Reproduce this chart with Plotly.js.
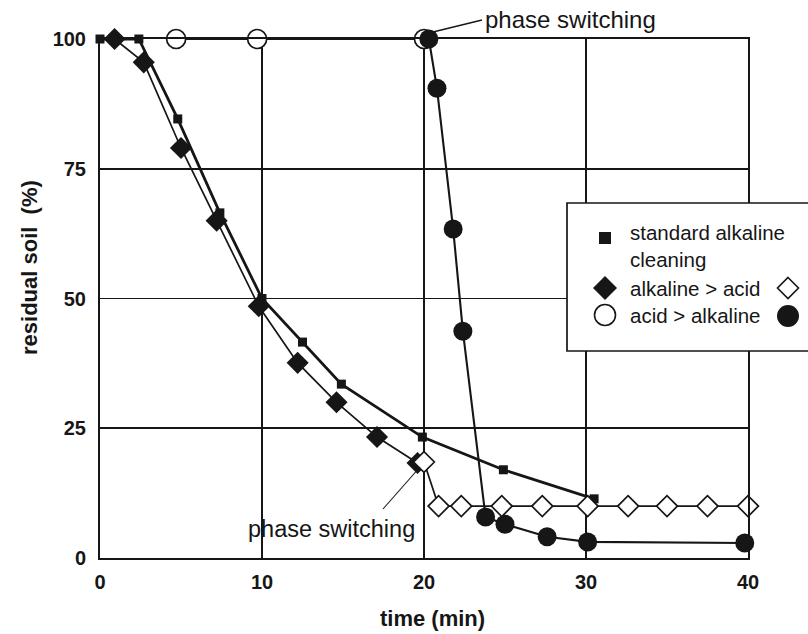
<!DOCTYPE html>
<html>
<head>
<meta charset="utf-8">
<script src="https://cdn.plot.ly/plotly-3.0.1.min.js"></script>
<style>
  html, body { margin: 0; padding: 0; background: #fff; }
  #chart { width: 808px; height: 634px; }
</style>
</head>
<body>
<div id="chart"></div>
<script>
// Residual soil (%) against cleaning time (min)

// standard alkaline cleaning
const stdTime = [0, 2.4, 4.8, 7.4, 10, 12.5, 14.9, 19.9, 24.9, 30.5];
const stdSoil = [100, 100, 84.6, 66.5, 50, 41.6, 33.5, 23.3, 17, 11.4];

// alkaline > acid: alkaline phase (filled diamonds)
const alkTime = [0.9, 2.7, 5.0, 7.2, 9.8, 12.2, 14.6, 17.1, 19.6];
const alkSoil = [100, 95.5, 79, 65, 48.5, 37.6, 30, 23.3, 18.3];
// alkaline > acid: acid phase (open diamonds)
const alkAcidTime = [20, 20.9, 22.3, 24.8, 27.3, 30.1, 32.6, 35, 37.5, 40];
const alkAcidSoil = [18.5, 10, 10, 10, 10, 10, 10, 10, 10, 10];

// acid > alkaline: acid phase (open circles)
const acidTime = [4.7, 9.7, 20];
const acidSoil = [100, 100, 100];
// acid > alkaline: alkaline phase (filled circles)
const acidAlkTime = [20.3, 20.8, 21.8, 22.4, 23.8, 25, 27.6, 30.1, 39.8];
const acidAlkSoil = [100, 90.5, 63.4, 43.7, 7.9, 6.5, 4.1, 3.1, 2.9];

const xTicks = [0, 10, 20, 30, 40];
const yTicks = [0, 25, 50, 75, 100];

const legendLabels = ['standard alkaline', 'cleaning', 'alkaline > acid', 'acid > alkaline'];
const noteText = 'phase switching';

const FONT = 'Liberation Sans, Arial, Helvetica, sans-serif';
const INK = '#161616';

// figure geometry (pixels) and helpers to place decorations in paper units
const W = 808, H = 634;
const M = { l: 100, r: 60, t: 39, b: 76 };
const PW = W - M.l - M.r, PH = H - M.t - M.b;
const px = x => (x - M.l) / PW;
const py = y => (H - M.b - y) / PH;

const traces = [
  {
    x: stdTime, y: stdSoil, mode: 'lines+markers', type: 'scatter', cliponaxis: false,
    line: { color: INK, width: 2.8 },
    marker: { symbol: 'square', size: 9, color: INK },
    hoverinfo: 'x+y'
  },
  {
    x: alkTime, y: alkSoil, mode: 'lines+markers', type: 'scatter', cliponaxis: false,
    line: { color: INK, width: 1.7 },
    marker: { symbol: 'diamond', size: 17, color: INK },
    hoverinfo: 'x+y'
  },
  {
    x: acidTime, y: acidSoil, mode: 'lines+markers', type: 'scatter', cliponaxis: false,
    line: { color: INK, width: 2 },
    marker: { symbol: 'circle', size: 19, color: '#fff', line: { color: INK, width: 1.7 } },
    hoverinfo: 'x+y'
  },
  {
    x: acidAlkTime, y: acidAlkSoil, mode: 'lines+markers', type: 'scatter', cliponaxis: false,
    line: { color: INK, width: 2.1 },
    marker: { symbol: 'circle', size: 19, color: INK },
    hoverinfo: 'x+y'
  },
  {
    x: [alkTime[alkTime.length - 1]].concat(alkAcidTime),
    y: [alkSoil[alkSoil.length - 1]].concat(alkAcidSoil),
    mode: 'lines', type: 'scatter', cliponaxis: false,
    line: { color: INK, width: 1.7 }, hoverinfo: 'skip'
  },
  {
    x: alkAcidTime, y: alkAcidSoil, mode: 'markers', type: 'scatter', cliponaxis: false,
    marker: { symbol: 'diamond', size: 16, color: '#fff', line: { color: INK, width: 1.7 } },
    hoverinfo: 'x+y'
  }
];

// legend box with its key symbols
function diamondPath(cx, cy, h) {
  return 'M' + px(cx) + ',' + py(cy - h) + ' L' + px(cx + h) + ',' + py(cy) +
         ' L' + px(cx) + ',' + py(cy + h) + ' L' + px(cx - h) + ',' + py(cy) + ' Z';
}
const shapes = [
  { type: 'rect', xref: 'paper', yref: 'paper', x0: px(567), x1: px(815), y0: py(351), y1: py(203),
    fillcolor: '#fff', line: { color: INK, width: 1.7 }, layer: 'above' },
  { type: 'rect', xref: 'paper', yref: 'paper', x0: px(599), x1: px(611), y0: py(244), y1: py(232),
    fillcolor: INK, line: { width: 0 } },
  { type: 'path', xref: 'paper', yref: 'paper', path: diamondPath(605, 288, 12),
    fillcolor: INK, line: { width: 0 } },
  { type: 'path', xref: 'paper', yref: 'paper', path: diamondPath(788, 288, 10.5),
    fillcolor: '#fff', line: { color: INK, width: 1.6 } },
  { type: 'circle', xref: 'paper', yref: 'paper', x0: px(594.5), x1: px(615.5), y0: py(325.5), y1: py(304.5),
    fillcolor: '#fff', line: { color: INK, width: 1.6 } },
  { type: 'circle', xref: 'paper', yref: 'paper', x0: px(777), x1: px(799), y0: py(327), y1: py(305),
    fillcolor: INK, line: { width: 0 } },
  // pointers of the two "phase switching" notes
  { type: 'line', xref: 'paper', yref: 'paper', x0: px(433), y0: py(32), x1: px(482), y1: py(20),
    line: { color: INK, width: 1.3 } },
  { type: 'line', xref: 'paper', yref: 'paper', x0: px(420), y0: py(467), x1: px(383), y1: py(509),
    line: { color: INK, width: 1.1 } }
];

const legendY = [232, 259, 288, 315];
const annotations = legendLabels.map((t, i) => ({
  text: t, xref: 'paper', yref: 'paper', x: px(628), y: py(legendY[i]),
  xanchor: 'left', yanchor: 'middle', showarrow: false,
  font: { family: FONT, size: 20.5, color: INK }
}));
annotations.push(
  { text: noteText, xref: 'paper', yref: 'paper', x: px(483), y: py(19),
    xanchor: 'left', yanchor: 'middle', showarrow: false,
    font: { family: FONT, size: 24, color: INK } },
  { text: noteText, xref: 'paper', yref: 'paper', x: px(331), y: py(529),
    xanchor: 'center', yanchor: 'middle', showarrow: false,
    font: { family: FONT, size: 23.5, color: INK } },
  { text: '<b>time (min)</b>', xref: 'paper', yref: 'paper', x: px(433), y: py(618),
    xanchor: 'center', yanchor: 'middle', showarrow: false,
    font: { family: FONT, size: 22, color: INK } },
  { text: '<b>residual soil  (%)</b>', xref: 'paper', yref: 'paper', x: px(29), y: py(268),
    xanchor: 'center', yanchor: 'middle', showarrow: false, textangle: -90,
    font: { family: FONT, size: 22, color: INK } }
);

const axisCommon = {
  showline: true, linecolor: INK, linewidth: 2, mirror: true,
  showgrid: true, gridcolor: INK, gridwidth: 1.8,
  zeroline: false, ticks: '', fixedrange: true,
  tickfont: { family: FONT, size: 20, color: INK, weight: 'bold' }
};

const layout = {
  width: W, height: H,
  margin: M,
  paper_bgcolor: '#fff', plot_bgcolor: '#fff',
  showlegend: false,
  xaxis: Object.assign({}, axisCommon, { range: [0, 40], tickvals: xTicks, ticktext: xTicks.map(String), ticklabelstandoff: 5 }),
  yaxis: Object.assign({}, axisCommon, { range: [0, 100], tickvals: yTicks, ticktext: yTicks.map(String), ticklabelstandoff: 8 }),
  shapes: shapes,
  annotations: annotations
};

Plotly.newPlot('chart', traces, layout, { displayModeBar: false, staticPlot: true });
</script>
</body>
</html>
